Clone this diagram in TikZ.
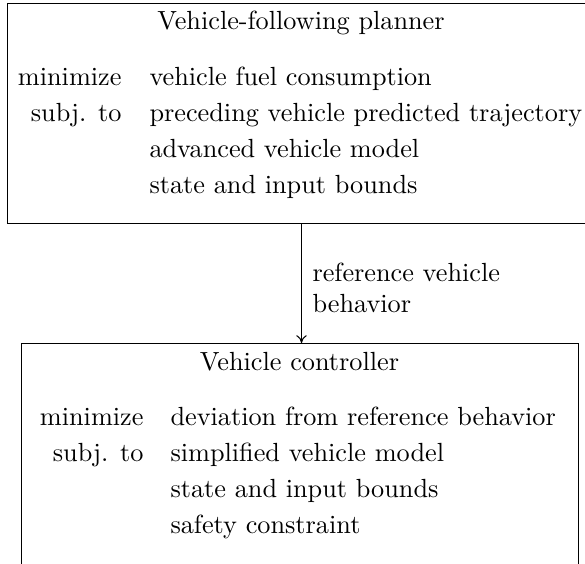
\documentclass[tikz,border=0pt]{standalone}
\usetikzlibrary{arrows.meta}
\begin{document}
\begin{tikzpicture}[x=0.381pt, y=-0.381pt,
  panel/.style={draw, line width=0.4pt, anchor=north west, inner sep=0pt},
  lbl/.style={anchor=base east, inner sep=0pt},
  txt/.style={anchor=base west, inner sep=0pt},
  ttl/.style={anchor=base, inner sep=0pt},
  flow/.style={-{To[length=3pt,width=4pt]}, line width=0.4pt}]
  \useasboundingbox (0,0) rectangle (585,563);
  \clip (0,0) rectangle (585,563);

  % upper optimisation problem
  \node[panel, minimum width=588*0.381pt, minimum height=220*0.381pt] (planner) at (7,3) {};
  \node[ttl] (ptitle) at (301,30) {Vehicle-following planner};
  \node[lbl] (pmin) at (122,85) {minimize};
  \node[lbl] (psub) at (122,121) {subj. to};
  \node[txt] (pobj) at (149,85) {vehicle fuel consumption};
  \node[txt] (pc1) at (149,121) {preceding vehicle predicted trajectory};
  \node[txt] (pc2) at (149,157) {advanced vehicle model};
  \node[txt] (pc3) at (149,193) {state and input bounds};

  % lower optimisation problem
  \node[panel, minimum width=557*0.381pt, minimum height=235*0.381pt] (controller) at (21,343) {};
  \node[ttl] (ctitle) at (299.5,370) {Vehicle controller};
  \node[lbl] (cmin) at (144,425) {minimize};
  \node[lbl] (csub) at (144,461) {subj. to};
  \node[txt] (cobj) at (170,425) {deviation from reference behavior};
  \node[txt] (cc1) at (170,461) {simplified vehicle model};
  \node[txt] (cc2) at (170,497) {state and input bounds};
  \node[txt] (cc3) at (170,533) {safety constraint};

  % reference handed down from planner to controller
  \draw[flow] (planner.south) -- (planner.south |- controller.north);
  \node[txt, align=left, anchor=north west] (ref) at (312,262)
    {reference vehicle\\behavior};
\end{tikzpicture}
\end{document}
